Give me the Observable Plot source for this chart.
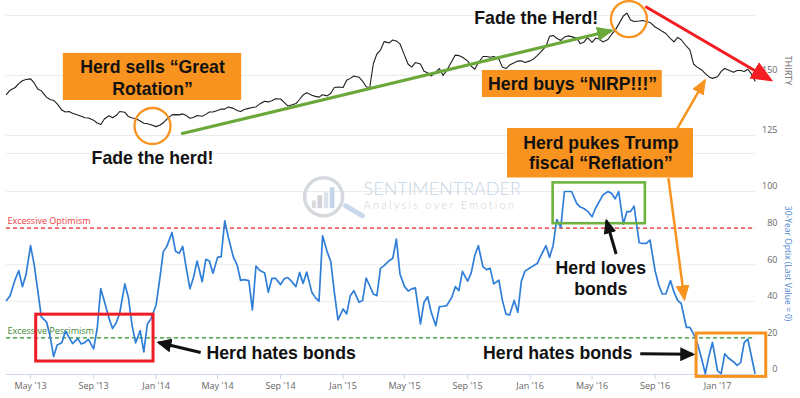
<!DOCTYPE html>
<html><head><meta charset="utf-8">
<script src="https://cdn.jsdelivr.net/npm/d3@7"></script>
<script src="https://cdn.jsdelivr.net/npm/@observablehq/plot@0.6"></script>
<style>
html,body{margin:0;padding:0;background:#fff;}
#chart{position:relative;width:800px;height:398px;overflow:hidden;background:#fff;}
#chart svg{position:absolute;left:0;top:0;}
</style></head><body><div id="chart"></div>
<script>
// ---------- DATA ----------
// 30-year Treasury bond futures ("THIRTY"), 4 readings per month (days 1, 8, 15, 22)
const thirty = [142.1, 143.9,
145.0, 146.6, 147.8, 148.3,
148.6, 146.9, 144.4, 143.6,
141.0, 140.0, 139.6, 138.2,
135.6, 134.8, 135.0, 134.3,
133.5, 133.0, 132.4, 132.3,
131.4, 130.2, 129.6, 131.9,
133.2, 132.4, 133.3, 135.0,
134.7, 132.9, 132.3, 132.1,
131.0, 130.1, 129.9, 129.5,
128.7, 129.3, 130.3, 131.8,
133.6, 133.7, 133.6, 134.0,
133.3, 132.2, 132.5, 133.3,
133.0, 133.8, 134.8, 134.8,
135.4, 136.0, 136.0, 136.9,
136.3, 135.4, 135.0, 135.8,
136.3, 136.7, 136.9, 138.1,
139.3, 139.0, 139.5, 140.3,
140.2, 138.8, 137.3, 137.7,
138.3, 140.0, 141.9, 142.8,
141.8, 141.3, 141.0, 142.0,
141.5, 142.6, 145.0, 145.2,
145.0, 148.0, 148.8, 149.8,
149.3, 147.7, 145.3, 144.9,
154.9, 159.0, 160.6, 164.1,
163.6, 164.8, 164.4, 163.2,
158.4, 154.7, 153.5, 155.4,
154.8, 151.8, 151.1, 149.8,
151.5, 152.9, 150.0, 152.0,
155.8, 158.5, 158.3, 157.6,
156.1, 153.9, 152.6, 155.3,
157.9, 157.9, 157.6, 157.9,
156.9, 153.5, 152.9, 154.4,
155.3, 156.0, 156.1, 155.4,
156.1, 156.9, 158.3, 159.8,
162.1, 166.3, 166.7, 165.5,
164.6, 166.0, 166.5, 166.2,
165.5, 163.3, 163.9, 165.8,
163.8, 165.6, 165.2, 164.0,
165.0, 167.1, 168.8, 171.4,
174.8, 176.0, 173.1, 172.5,
172.7, 172.9, 172.5, 172.1,
170.2, 169.4, 168.4, 167.5,
165.4, 164.0, 165.9, 164.9,
162.2, 160.7, 154.8, 153.5,
152.3, 150.8, 149.5, 148.8,
149.5, 151.7, 152.9, 152.3,
151.4, 152.1, 152.1, 151.7,
152.6, 150.7, 147.7];

// 30-Year Optix, same dates
const optix = [40.4, 43.0,
52.0, 56.7, 48.0, 54.5,
70.4, 60.0, 46.0, 31.5,
28.8, 21.0, 9.8, 16.1,
17.3, 23.8, 20.3, 16.9,
19.6, 16.7, 17.5, 19.2,
14.0, 25.0, 46.9, 40.0,
30.8, 25.1, 28.1, 33.5,
49.5, 42.0, 27.0, 17.3,
24.0, 12.4, 27.6, 30.4,
38.0, 52.0, 67.0, 70.0,
77.6, 67.3, 66.2, 70.0,
58.0, 46.9, 53.0, 62.0,
50.7, 62.9, 62.0, 55.3,
64.0, 64.4, 84.0, 75.0,
64.0, 60.0, 51.4, 51.8,
51.3, 35.3, 59.3, 57.0,
55.5, 44.9, 52.5, 52.6,
49.1, 52.3, 53.0, 51.0,
48.0, 55.8, 49.8, 56.0,
44.9, 42.0, 40.0, 75.8,
67.0, 61.7, 44.7, 29.8,
35.8, 33.1, 43.0, 45.8,
39.5, 40.4, 52.7, 48.5,
44.0, 43.1, 58.0, 59.5,
62.2, 63.5, 74.0, 54.9,
48.0, 45.6, 46.8, 47.3,
27.6, 39.5, 42.5, 34.0,
26.7, 37.1, 37.3, 37.6,
42.0, 48.0, 45.8, 56.4,
51.0, 55.4, 65.0, 70.4,
58.9, 57.3, 58.0, 49.5,
51.5, 40.5, 33.0, 32.5,
40.5, 34.0, 51.0, 56.5,
58.3, 59.5, 60.6, 64.8,
70.4, 64.0, 70.5, 84.7,
80.4, 100, 100, 100,
93.5, 91.5, 90.7, 89.3,
86.2, 91.0, 94.5, 98.0,
100, 99.0, 96.0, 100,
82.2, 89.0, 89.0, 92.0,
72.0, 71.6, 71.6, 73.5,
56.7, 49.0, 44.0, 44.0,
51.3, 45.0, 40.5, 38.8,
25.8, 25.8, 22.2, 17.5,
8.5, 0.4, 10.0, 17.5,
2.0, 0.5, 11.3, 9.0,
7.0, 5.0, 6.5, 17.5,
19.3, 10.0, 0.7];

const sampleDays = [1, 8, 15, 22];
const firstDate = "2013-03-15", lastDate = "2017-03-15";
const xDomain = ["2013-03-15", "2017-03-16"];
const topTicks = [125, 150];
const topGrid = [117.5, 125, 150, 175];
const botTicks = [0, 20, 40, 60, 80, 100];
const thresholds = [
  {v: 80, label: "Excessive Optimism", color: "#f0282d", text: "#ee3b3f"},
  {v: 20, label: "Excessive Pessimism", color: "#2f9a2f", text: "#3b8a34"}
];

// ---------- ANNOTATIONS (data coordinates) ----------
const topBoxes = [
  {x1: "2013-07-04", x2: "2014-06-17", y1: 139.6, y2: 159.2},
  {x1: "2015-09-30", x2: "2016-09-15", y1: 140.8, y2: 152.1},
  {x1: "2015-11-18", x2: "2016-11-15", y1: 107.3, y2: 127.9}
];
const topNotes = [
  {x: "2013-12-25", y: 153.45, text: "Herd sells “Great"},
  {x: "2013-12-25", y: 144.04, text: "Rotation”"},
  {x: "2013-12-25", y: 115.4, text: "Fade the herd!"},
  {x: "2016-01-13", y: 173.75, text: "Fade the Herd!"},
  {x: "2016-03-24", y: 146.46, text: "Herd buys “NIRP!!!”"},
  {x: "2016-05-18", y: 121.54, text: "Herd pukes Trump"},
  {x: "2016-05-18", y: 113.21, text: "fiscal “Reflation”"}
];
const topCircles = [
  {x: "2013-12-25", y: 128.95},
  {x: "2016-07-12", y: 173.5}
];
const topArrows = [
  {x1: "2014-02-19", y1: 125.7, x2: "2016-06-08", y2: 168.75, color: "#6aa839", width: 3, len: 17, wid: 14},
  {x1: "2016-08-13", y1: 178.75, x2: "2017-04-14", y2: 148.2, color: "#f41d22", width: 3, len: 22, wid: 19},
  {x1: "2016-10-14", y1: 127.8, x2: "2016-12-07", y2: 147.9, color: "#f7931e", width: 2.5, len: 16, wid: 13}
];
const botArrows = [
  {x1: "2016-09-27", y1: 107.3, x2: "2016-10-28", y2: 41.3, color: "#f7931e", width: 2.5, len: 16, wid: 14},
  {x1: "2014-03-29", y1: 12.0, x2: "2014-01-06", y2: 17.46, color: "#111", width: 3, len: 15, wid: 14},
  {x1: "2016-08-03", y1: 11.3, x2: "2016-11-14", y2: 11.0, color: "#111", width: 3, len: 15, wid: 14},
  {x1: "2016-06-17", y1: 65.85, x2: "2016-05-29", y2: 84.0, color: "#111", width: 3, len: 15, wid: 13}
];
const botFrames = [
  {x1: "2013-05-12", x2: "2013-12-27", y1: 7.1, y2: 32.7, color: "#ee1c24", width: 3},
  {x1: "2016-02-15", x2: "2016-08-13", y1: 82.4, y2: 104.7, color: "#6db33f", width: 2.6},
  {x1: "2016-11-21", x2: "2017-04-06", y1: -1.3, y2: 22.4, color: "#f7931e", width: 3}
];
const botNotes = [
  {x: "2014-09-02", y: 11.46, text: "Herd hates bonds"},
  {x: "2016-02-24", y: 11.46, text: "Herd hates bonds"},
  {x: "2016-05-18", y: 58.2, text: "Herd loves"},
  {x: "2016-05-18", y: 46.75, text: "bonds"}
];
const watermark = [
  {x: "2015-02-10", y: 101.4, text: "SENTIMENTRADER", size: 18, color: "#c6d5e5"},
  {x: "2015-02-10", y: 92.2, text: "Analysis over Emotion", size: 11, color: "#d0d0d0"}
];
const logoRing = [{x: "2014-11-24", y: 97.1}];
const logoBars = [
  {x1: "2014-11-02", x2: "2014-11-10", y1: 90.6, y2: 94.9, color: "#dcdcdc"},
  {x1: "2014-11-13", x2: "2014-11-22", y1: 90.6, y2: 97.7, color: "#cfd3d8"},
  {x1: "2014-11-25", x2: "2014-12-04", y1: 90.6, y2: 99.3, color: "#dde3ea"},
  {x1: "2014-12-07", x2: "2014-12-16", y1: 90.6, y2: 102.0, color: "#c5d4e6"}
];
const logoHandle = [{x1: "2015-01-06", y1: 92.2, x2: "2015-02-08", y2: 86.7}];

// ---------- BUILD ----------
const D = s => new Date(s);
const dates = d3.utcMonth.range(D("2013-03-01"), D("2017-04-01"))
  .flatMap(m => sampleDays.map(d => new Date(Date.UTC(m.getUTCFullYear(), m.getUTCMonth(), d))))
  .filter(d => d >= D(firstDate) && d <= D(lastDate));
const topData = dates.map((date, i) => ({date, value: thirty[i]}));
const botData = dates.map((date, i) => ({date, value: optix[i]}));

function headMarker(len, wid) {
  return (color) => {
    const m = d3.create("svg:marker")
      .attr("viewBox", "0 -5 10 10")
      .attr("refX", 8.5).attr("refY", 0)
      .attr("markerUnits", "userSpaceOnUse")
      .attr("markerWidth", len).attr("markerHeight", wid)
      .attr("preserveAspectRatio", "none")
      .attr("orient", "auto")
      .attr("fill", color).attr("stroke", "none");
    m.append("path").attr("d", "M0,-5L10,0L0,5Z");
    return m.node();
  };
}
const arrowMarks = arr => arr.map(a => Plot.link([a], {
  x1: d => D(d.x1), y1: "y1", x2: d => D(d.x2), y2: "y2",
  stroke: a.color, strokeWidth: a.width, markerEnd: headMarker(a.len, a.wid)
}));
const boldFont = "'Liberation Sans', Arial, Helvetica, sans-serif";
const noteSize = 17.7;
const common = {
  width: 800, height: 398, marginLeft: 6, marginRight: 45,
  style: {background: "transparent", fontFamily: "'Open Sans', sans-serif", overflow: "visible"}
};
const xScale = {type: "utc", domain: xDomain.map(D)};

const botPlot = Plot.plot({
  ...common,
  marginTop: 191, marginBottom: 24,
  x: {...xScale},
  y: {domain: [0, 100], axis: null},
  marks: [
    Plot.ruleY(botTicks.filter(t => t > 0), {stroke: "#ececec"}),
    Plot.ruleY([0], {stroke: "#ccd6eb"}),
    Plot.axisX({ticks: d3.utcMonth.every(4).range(D(xDomain[0]), D(xDomain[1])),
      tickFormat: d3.utcFormat("%b '%y"), tickSize: 5, tickPadding: 3,
      stroke: "#ccd6eb", fill: "#666", fontSize: 9}),
    // watermark
    Plot.rect(logoBars, {x1: d => D(d.x1), x2: d => D(d.x2), y1: "y1", y2: "y2", fill: d => d.color}),
    Plot.dot(logoRing, {x: d => D(d.x), y: "y", r: 19, stroke: "#d5d9de", strokeWidth: 3.5, fill: "none"}),
    Plot.link(logoHandle, {x1: d => D(d.x1), y1: "y1", x2: d => D(d.x2), y2: "y2", stroke: "#c9d8ea", strokeWidth: 5, strokeLinecap: "round"}),
    ...watermark.map(w => Plot.text([w], {x: d => D(d.x), y: "y", text: "text", textAnchor: "start",
      fontSize: w.size, fill: w.color, fontFamily: "Lato, 'Open Sans', sans-serif", fontWeight: 300})),
    // thresholds
    ...thresholds.map(t => Plot.ruleY([t.v], {stroke: t.color, strokeDasharray: "4,3", strokeWidth: 1.3})),
    ...thresholds.map(t => Plot.text([t], {y: "v", text: "label", frameAnchor: "left", textAnchor: "start",
      dx: 1, dy: -7, fill: t.text, fontSize: 9})),
    // right axis
    Plot.text(botTicks, {y: d => d, text: d => String(d), frameAnchor: "right", textAnchor: "end", dx: 22, dy: -5, fill: "#666", fontSize: 9}),
    Plot.text(["30-Year Optix (Last Value = 0)"], {y: 60.6, text: d => d, frameAnchor: "right", textAnchor: "middle", dx: 32, rotate: 90, fill: "#4a86d0", fontSize: 8.5}),
    // series
    Plot.line(botData, {x: "date", y: "value", stroke: "#2f7ed8", strokeWidth: 1.7}),
    // annotations
    ...botFrames.map(f => Plot.rect([f], {x1: d => D(d.x1), x2: d => D(d.x2), y1: "y1", y2: "y2",
      fill: "none", stroke: f.color, strokeWidth: f.width})),
    ...arrowMarks(botArrows),
    Plot.text(botNotes, {x: d => D(d.x), y: "y", text: "text", fontSize: noteSize, fontWeight: "bold", fontFamily: boldFont, fill: "#111"})
  ]
});

const topPlot = Plot.plot({
  ...common,
  marginTop: 15, marginBottom: 245,
  x: {...xScale, axis: null},
  y: {domain: [117.5, 175], axis: null},
  marks: [
    Plot.ruleY(topGrid, {stroke: "#ebebeb"}),
    Plot.text(topTicks, {y: d => d, text: d => String(d), frameAnchor: "right", textAnchor: "end", dx: 22, dy: -5, fill: "#666", fontSize: 9}),
    Plot.text(["THIRTY"], {y: 152.1, text: d => d, frameAnchor: "right", textAnchor: "middle", dx: 32, rotate: 90, fill: "#666", fontSize: 9}),
    Plot.line(topData, {x: "date", y: "value", stroke: "#1e1e1e", strokeWidth: 1.1}),
    Plot.rect(topBoxes, {x1: d => D(d.x1), x2: d => D(d.x2), y1: "y1", y2: "y2", fill: "#f7931e"}),
    Plot.dot(topCircles, {x: d => D(d.x), y: "y", r: 18, stroke: "#f7931e", strokeWidth: 2.3, fill: "none"}),
    ...arrowMarks(topArrows),
    Plot.text(topNotes, {x: d => D(d.x), y: "y", text: "text", fontSize: noteSize, fontWeight: "bold", fontFamily: boldFont, fill: "#111"})
  ]
});

d3.select(botPlot).selectAll("text")
  .filter(function() { return this.textContent === "Analysis over Emotion"; })
  .attr("letter-spacing", "2.3px");

const chartDiv = document.getElementById("chart");
chartDiv.appendChild(botPlot);
chartDiv.appendChild(topPlot);
</script></body></html>
